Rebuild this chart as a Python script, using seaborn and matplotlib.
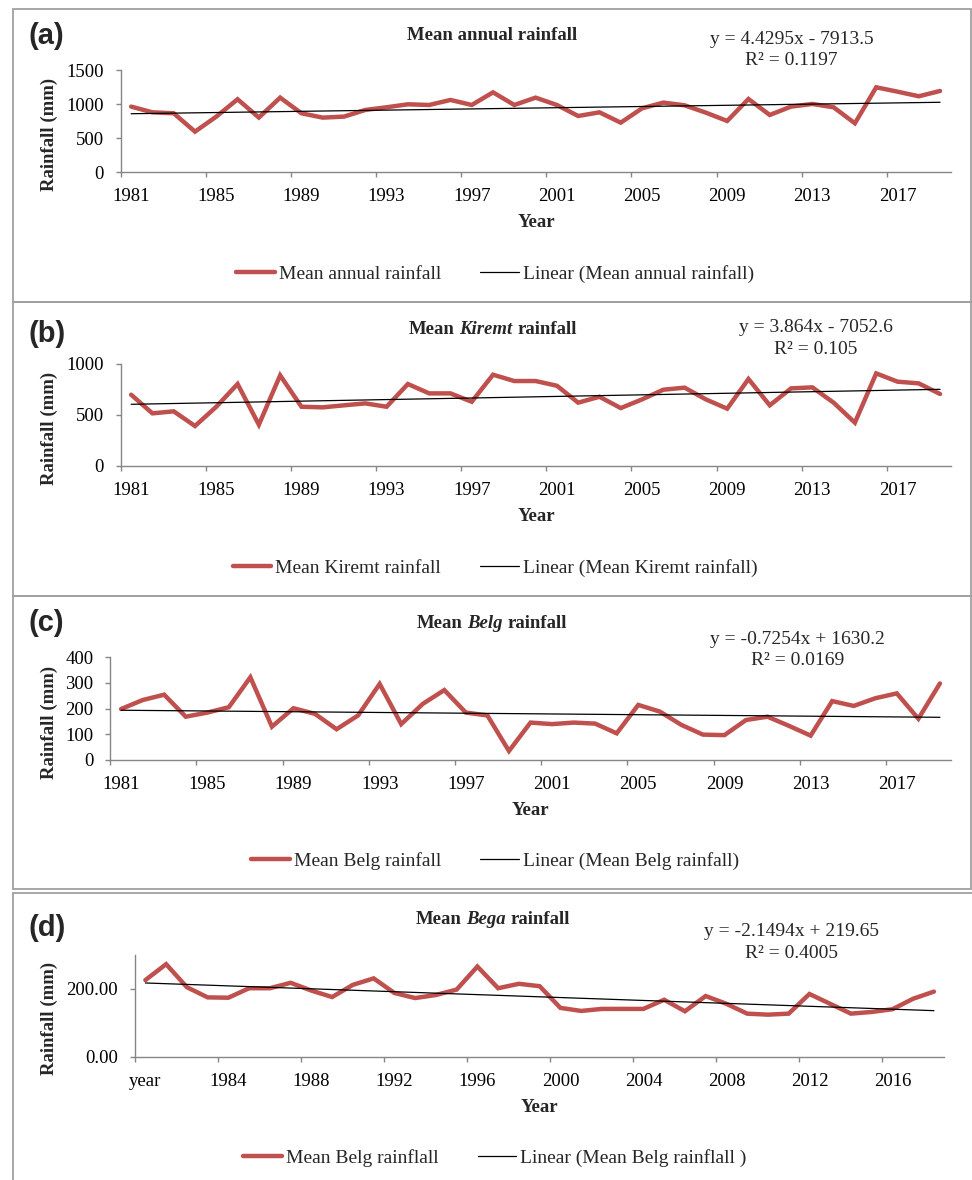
import numpy as np
import pandas as pd
import matplotlib
matplotlib.use("Agg")
import matplotlib.pyplot as plt
import seaborn as sns
from matplotlib.offsetbox import TextArea, HPacker, AnnotationBbox
from matplotlib.patches import Rectangle

# ---------------- data ----------------
years = [str(y) for y in range(1981, 2020)]
bega_cats = ["year"] + [str(y) for y in range(1981, 2019)]

annual = [966, 882, 868, 598, 819, 1074, 805, 1098, 868, 804, 819, 917, 956, 1000,
          990, 1064, 990, 1176, 990, 1098, 990, 828, 882, 730, 941, 1025, 985, 877,
          755, 1078, 843, 966, 1005, 956, 721, 1250, 1186, 1118, 1196]
kiremt = [696, 513, 533, 389, 578, 801, 402, 886, 578, 572, 592, 611, 578, 801,
          709, 709, 627, 892, 830, 830, 784, 618, 676, 565, 650, 745, 765, 650,
          559, 850, 592, 758, 768, 618, 422, 905, 824, 807, 703]
belg = [198, 233, 254, 168, 184, 205, 322, 129, 201, 179, 119, 173, 296, 139,
        218, 272, 184, 173, 34, 145, 139, 145, 141, 103, 214, 188, 136, 98,
        96, 155, 168, 132, 94, 229, 210, 240, 259, 160, 298]
bega = [226, 273, 205, 175, 174, 202, 202, 218, 195, 176, 212, 231, 188, 173,
        182, 198, 266, 202, 215, 208, 144, 135, 141, 141, 141, 168, 134, 179,
        156, 127, 124, 127, 185, 156, 127, 132, 140, 171, 192]

# trend equations as printed (slope, intercept); x = year for a-c, x = 1..n for d
slopes = [4.4295, 3.864, -0.7254, -2.1494]
intercepts = [-7913.5, -7052.6, 1630.2, 219.65]
r2_text = ["0.1197", "0.105", "0.0169", "0.4005"]
eq_text = ["y = 4.4295x - 7913.5", "y = 3.864x - 7052.6",
           "y = -0.7254x + 1630.2", "y = -2.1494x + 219.65"]

series_labels = ["Mean annual rainfall", "Mean Kiremt rainfall",
                 "Mean Belg rainfall", "Mean Belg rainflall"]
trend_labels = ["Linear (Mean annual rainfall)", "Linear (Mean Kiremt rainfall)",
                "Linear (Mean Belg rainfall)", "Linear (Mean Belg rainflall )"]
titles = [[("Mean annual rainfall", "normal")],
          [("Mean", "normal"), ("Kiremt", "italic"), ("rainfall", "normal")],
          [("Mean", "normal"), ("Belg", "italic"), ("rainfall", "normal")],
          [("Mean", "normal"), ("Bega", "italic"), ("rainfall", "normal")]]
panel_tags = ["(a)", "(b)", "(c)", "(d)"]
y_limits = [(0, 1500), (0, 1000), (0, 400), (0, 300)]
y_ticks = [[0, 500, 1000, 1500], [0, 500, 1000], [0, 100, 200, 300, 400], [0, 200]]
y_ticklabels = [["0", "500", "1000", "1500"], ["0", "500", "1000"],
                ["0", "100", "200", "300", "400"], ["0.00", "200.00"]]

# ---------------- layout (pixels) ----------------
W, H = 972, 1180
RED = "#C0504D"
GRAY = "#868686"

sns.set_theme(style="white")
plt.rcParams["font.family"] = ["Liberation Serif", "DejaVu Serif"]

fig = plt.figure(figsize=(W / 100, H / 100), dpi=100)


def fx(p):
    return p / W


def fy(p):
    return 1 - p / H


# axes boxes: left, right, top, bottom in px
ax_px = [(120.5, 950.7, 70.3, 172.3),
         (120.5, 950.7, 363.7, 465.7),
         (110.3, 950.7, 657.3, 759.7),
         (135.0, 944.3, 955.0, 1056.7)]
# panel frames: top, bottom, right
frames = [(9.3, 302.3, 971), (302.3, 596.0, 971), (596.0, 889.3, 971), (893.3, 1190, 990)]
tag_y = [36, 334, 623, 927.5]
title_pos = [(492, 36), (492.5, 330), (492, 623.3), (492.5, 920)]
eq_pos = [(791.5, 39, 60.7), (815.8, 327.3, 349), (797.5, 639.3, 660.7), (791.3, 931.7, 954)]
year_pos = [(536, 222.7), (536, 516.7), (530.7, 810.7), (539.7, 1107.7)]
ylab_y = [134, 428, 722, 1018.7]
legend_pos = [(495, 274), (495, 567.7), (495, 861), (495, 1157.7)]

for k in range(4):
    l, r, t, b = ax_px[k]
    ax = fig.add_axes([fx(l), fy(b), (r - l) / W, (b - t) / H])
    cats = bega_cats if k == 3 else years
    vals = [annual, kiremt, belg, bega][k]
    pos = np.arange(len(cats))
    if k == 3:
        xv = pos + 1
    else:
        xv = np.array([int(c) for c in cats])
    trend = slopes[k] * xv + intercepts[k]
    df = pd.DataFrame({"pos": pos, "value": vals, "trend": trend})

    sns.lineplot(data=df, x="pos", y="value", ax=ax, color=RED, lw=3.2,
                 label=series_labels[k], solid_joinstyle="miter")
    sns.lineplot(data=df, x="pos", y="trend", ax=ax, color="black", lw=0.9,
                 label=trend_labels[k])

    ax.set_xlim(-0.5, len(cats) - 0.5)
    ax.set_ylim(*y_limits[k])
    ax.set_xlabel("")
    ax.set_ylabel("")
    for s in ["top", "right"]:
        ax.spines[s].set_visible(False)
    for s in ["left", "bottom"]:
        ax.spines[s].set_color(GRAY)
        ax.spines[s].set_linewidth(1.0)
    ax.set_xticks(pos[::4])
    ax.set_xticklabels([cats[i] for i in pos[::4]])
    ax.set_xticks(np.arange(-0.5, len(cats) - 1, 4), minor=True)
    ax.tick_params(axis="x", which="major", length=0, pad=11.5, labelsize=13.5,
                   labelcolor="black")
    ax.tick_params(axis="x", which="minor", length=3.6, width=1.0, color=GRAY,
                   direction="out", bottom=True)
    ax.set_yticks(y_ticks[k])
    ax.set_yticklabels(y_ticklabels[k])
    ax.tick_params(axis="y", which="major", length=3.6, width=1.0, color=GRAY,
                   direction="out", left=True, pad=8.6, labelsize=13.5,
                   labelcolor="black")

    ax.legend(loc="center", bbox_to_anchor=(fx(legend_pos[k][0]), fy(legend_pos[k][1])),
              bbox_transform=fig.transFigure, ncol=2, frameon=False,
              fontsize=14, handlelength=2.0, handletextpad=0.2,
              columnspacing=2.0, borderpad=0, borderaxespad=0)

    # panel frame
    ft, fb, fr = frames[k]
    fig.add_artist(Rectangle((fx(12.7), fy(fb)), (fr - 12.7) / W, (fb - ft) / H,
                             transform=fig.transFigure, fill=False,
                             edgecolor="#a0a0a0", lw=1.3))

    # panel tag
    fig.text(fx(28), fy(tag_y[k]), panel_tags[k], family="Liberation Sans",
             fontweight="bold", fontsize=21, ha="left", va="center")

    # title (mixed bold / bold-italic)
    parts = [TextArea(txt, textprops=dict(fontsize=13.5, fontweight="bold",
                                          fontstyle=st, family="Liberation Serif"))
             for txt, st in titles[k]]
    pack = HPacker(children=parts, align="baseline", pad=0, sep=3.4)
    ab = AnnotationBbox(pack, (fx(title_pos[k][0]), fy(title_pos[k][1])),
                        xycoords="figure fraction", frameon=False,
                        box_alignment=(0.5, 0.5), pad=0)
    fig.add_artist(ab)

    # equation
    ex, ey1, ey2 = eq_pos[k]
    fig.text(fx(ex), fy(ey1), eq_text[k], fontsize=14, ha="center", va="center")
    fig.text(fx(ex), fy(ey2), "R\u00b2 = " + r2_text[k], fontsize=14,
             ha="center", va="center")

    # axis titles
    fig.text(fx(year_pos[k][0]), fy(year_pos[k][1]), "Year", fontsize=13.5,
             fontweight="bold", ha="center", va="center")
    fig.text(fx(49), fy(ylab_y[k]), "Rainfall (mm)", fontsize=13.5,
             fontweight="bold", ha="center", va="center", rotation=90)

fig.savefig("out.png", dpi=100)
